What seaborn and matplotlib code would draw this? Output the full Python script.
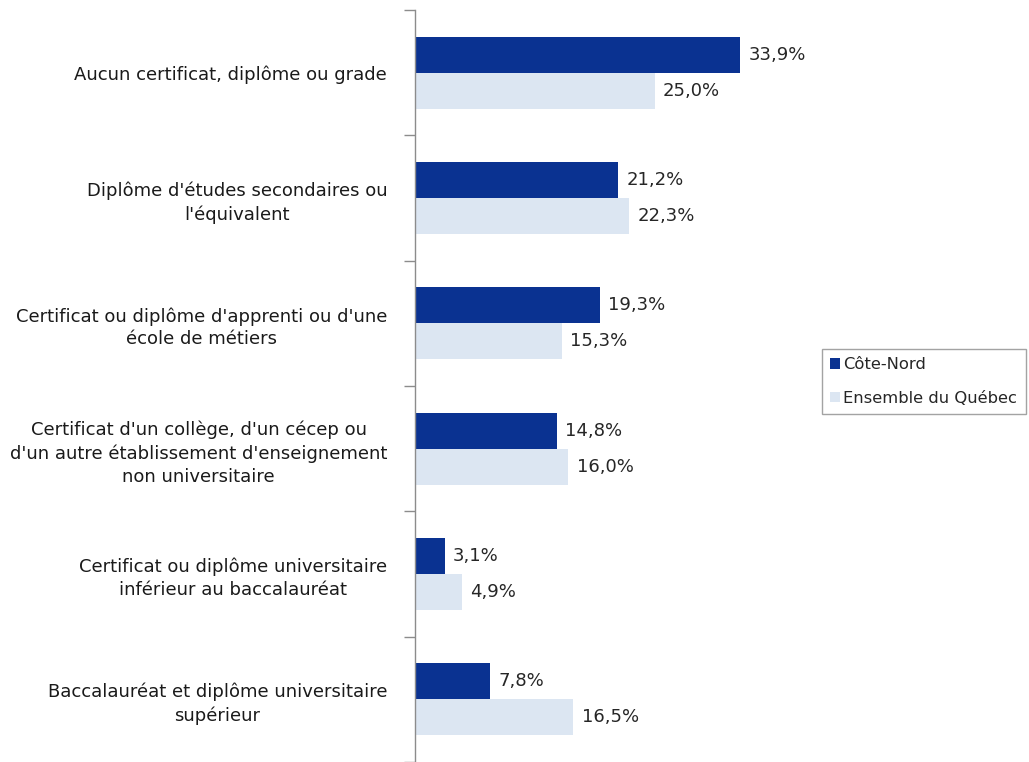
import matplotlib
matplotlib.use("Agg")
import matplotlib.pyplot as plt
import seaborn as sns
import pandas as pd
from matplotlib.ticker import FixedLocator

sns.set_theme(style="white")
plt.rcParams["font.family"] = ["DejaVu Sans"]

categories = [
    "Aucun certificat, diplôme ou grade",
    "Diplôme d'études secondaires ou\nl'équivalent",
    "Certificat ou diplôme d'apprenti ou d'une\nécole de métiers",
    "Certificat d'un collège, d'un cécep ou\nd'un autre établissement d'enseignement\nnon universitaire",
    "Certificat ou diplôme universitaire\ninférieur au baccalauréat",
    "Baccalauréat et diplôme universitaire\nsupérieur",
]
series_names = ["Côte-Nord", "Ensemble du Québec"]
cote_nord = [33.9, 21.2, 19.3, 14.8, 3.1, 7.8]
quebec = [25.0, 22.3, 15.3, 16.0, 4.9, 16.5]
colors = ["#0a3291", "#dce6f2"]

df = pd.DataFrame({
    "categorie": categories * 2,
    "serie": [series_names[0]] * len(categories) + [series_names[1]] * len(categories),
    "valeur": cote_nord + quebec,
})

fig = plt.figure(figsize=(10.29, 7.62), dpi=100)
ax = fig.add_axes([0.4033, 0.0, 0.355, 0.987])

sns.barplot(data=df, y="categorie", x="valeur", hue="serie", orient="h",
            palette=colors, width=0.575, order=categories,
            hue_order=series_names, ax=ax, saturation=1, legend=True,
            linewidth=0, edgecolor="none")

ax.set_xlim(0, (0.355 * 1029) / 9.59)
ax.set_ylim(len(categories) - 0.5, -0.5)
ax.set_xlabel("")
ax.set_ylabel("")
ax.set_xticks([])

for sp in ["top", "right", "bottom"]:
    ax.spines[sp].set_visible(False)
ax.spines["left"].set_color("#8c8c8c")
ax.spines["left"].set_linewidth(1.0)

ax.set_yticks(range(len(categories)))
ax.set_yticklabels(categories, fontsize=13, color="#1a1a1a",
                   multialignment="center", linespacing=1.35)
ax.tick_params(axis="y", which="major", length=0, pad=20)
ax.yaxis.set_minor_locator(FixedLocator([i - 0.5 for i in range(len(categories) + 1)]))
ax.tick_params(axis="y", which="minor", length=8, width=1.0, color="#8c8c8c", left=True)

for container in ax.containers:
    ax.bar_label(container, labels=[f"{v:.1f}%".replace(".", ",") for v in container.datavalues],
                 padding=6, fontsize=13, color="#262626")

handles, labels = ax.get_legend_handles_labels()
ax.legend_.remove()
leg = fig.legend(handles, labels, loc="upper left", bbox_to_anchor=(0.799, 0.542),
                 fontsize=11.8, frameon=True, fancybox=False, handlelength=0.6,
                 handleheight=0.6, handletextpad=0.2, borderpad=0.5,
                 labelspacing=1.15, borderaxespad=0)
leg.get_frame().set_edgecolor("#8c8c8c")
leg.get_frame().set_linewidth(1.0)

fig.savefig("out.png", dpi=100)
